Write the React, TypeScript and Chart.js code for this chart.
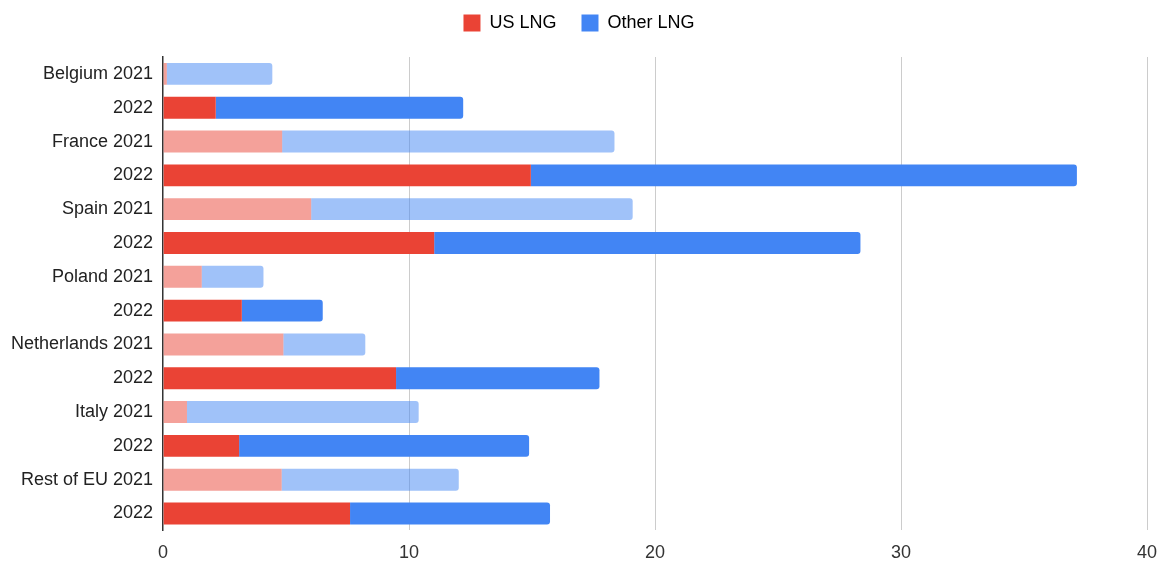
import React, { useEffect, useRef } from "react";
import { Chart, registerables } from "chart.js";

Chart.register(...registerables);

const categories = [
  "Belgium 2021", "2022",
  "France 2021", "2022",
  "Spain 2021", "2022",
  "Poland 2021", "2022",
  "Netherlands 2021", "2022",
  "Italy 2021", "2022",
  "Rest of EU 2021", "2022",
];

const usLng = [0.15, 2.14, 4.84, 14.95, 6.02, 11.02, 1.57, 3.2, 4.89, 9.47, 0.97, 3.09, 4.82, 7.6];
const otherLng = [4.29, 10.06, 13.51, 22.2, 13.07, 17.33, 2.51, 3.29, 3.33, 8.27, 9.42, 11.79, 7.2, 8.13];

const xTicks = [0, 10, 20, 30, 40];

const RED = "#ea4335";
const BLUE = "#4285f4";
const RED_LIGHT = "rgba(234,67,53,0.5)";
const BLUE_LIGHT = "rgba(66,133,244,0.5)";
const FONT = "'Liberation Sans', Arial, Helvetica, sans-serif";

const legendSpacing = {
  id: "legendSpacing",
  beforeInit(chart: any) {
    const legend = chart.legend;
    if (!legend) return;
    const orig = legend.fit;
    legend.fit = function () {
      orig.call(this);
      this.height += 15;
    };
  },
};

export default function App() {
  const ref = useRef<HTMLCanvasElement | null>(null);

  useEffect(() => {
    if (!ref.current) return;
    const isOld = categories.map((c) => c.endsWith("2021"));
    const chart = new Chart(ref.current, {
      type: "bar",
      data: {
        labels: categories,
        datasets: [
          {
            label: "US LNG",
            data: usLng,
            backgroundColor: isOld.map((o) => (o ? RED_LIGHT : RED)),
            borderWidth: 0,
            borderRadius: 0,
            barPercentage: 0.9,
            categoryPercentage: 0.72,
          },
          {
            label: "Other LNG",
            data: otherLng,
            backgroundColor: isOld.map((o) => (o ? BLUE_LIGHT : BLUE)),
            borderWidth: 0,
            borderRadius: 3,
            barPercentage: 0.9,
            categoryPercentage: 0.72,
          },
        ],
      },
      plugins: [legendSpacing],
      options: {
        indexAxis: "y",
        animation: false,
        responsive: false,
        maintainAspectRatio: false,
        layout: { padding: { top: -11, left: 1, right: 0, bottom: -13 } },
        plugins: {
          tooltip: { enabled: false },
          legend: {
            position: "top",
            labels: {
              font: { family: FONT, size: 18 },
              color: "#222",
              boxWidth: 17,
              boxHeight: 17,
              padding: 25,
              generateLabels: () => [
                { text: "US LNG", fillStyle: RED, strokeStyle: RED, lineWidth: 0, datasetIndex: 0 },
                { text: "Other LNG", fillStyle: BLUE, strokeStyle: BLUE, lineWidth: 0, datasetIndex: 1 },
              ] as any,
            },
          },
        },
        scales: {
          x: {
            stacked: true,
            min: 0,
            max: 40,
            afterBuildTicks: (axis: any) => {
              axis.ticks = xTicks.map((v) => ({ value: v }));
            },
            afterFit: (scale: any) => {
              scale.paddingRight = 10;
            },
            ticks: {
              font: { family: FONT, size: 18 },
              color: "#333",
              padding: 12,
            },
            grid: {
              drawTicks: false,
              color: (ctx: any) => (ctx.tick && ctx.tick.value === 0 ? "rgba(0,0,0,0)" : "#cccccc"),
              lineWidth: 1,
            },
            border: { display: false },
          },
          y: {
            stacked: true,
            ticks: {
              font: { family: FONT, size: 18 },
              color: "#222",
              padding: 10,
              autoSkip: false,
            },
            grid: { display: false, drawTicks: false },
            border: { display: true, color: "#333", width: 1.5 },
          },
        },
      },
    });
    return () => chart.destroy();
  }, []);

  return (
    <div style={{ position: "absolute", left: 0, top: 0, width: 1157, height: 563, background: "#fff" }}>
      <canvas ref={ref} width={1157} height={563} style={{ width: 1157, height: 563 }} />
    </div>
  );
}
